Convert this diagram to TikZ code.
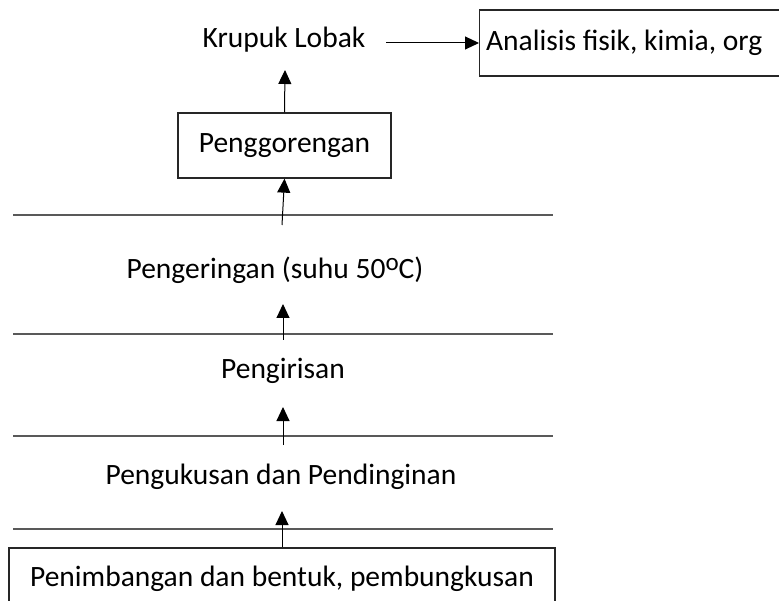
\documentclass[tikz,border=0pt]{standalone}
\usepackage{fontspec}
\setmainfont{Carlito}
\usepackage{tikz}
\usetikzlibrary{arrows.meta}
\usetikzlibrary{positioning}

\begin{document}
\begin{tikzpicture}[
    x=1pt, y=-1pt,
    every node/.style={font=\fontsize{29.5}{34}\selectfont},
    box style/.style={rectangle, draw=black!85, line width=1.3pt, inner sep=0pt},
    label style/.style={inner sep=0pt},
    rule style/.style={draw=black!65, line width=2pt},
    flow style/.style={draw=black, line width=1pt, -{Triangle[length=14pt,width=13pt]}}
]
\useasboundingbox (0,0) rectangle (779,601);

% boxes and labels
\node[box style, minimum width=546pt, minimum height=62pt] (weigh) at (282,579) {Penimbangan dan bentuk, pembungkusan};
\node[label style] (steam) at (281,477) {Pengukusan dan Pendinginan};
\node[label style] (slice) at (283,371) {Pengirisan};
\node[label style] (dry) at (275,270) {Pengeringan (suhu 50\raisebox{8pt}{\fontsize{25}{25}\selectfont o}C)};
\node[box style, minimum width=213pt, minimum height=65pt] (fry) at (284.5,145.5) {Penggorengan};
\node[label style] (krupuk) at (284,40) {Krupuk Lobak};
\node[box style, minimum width=320pt, minimum height=66pt, anchor=west] (test) at (479,43) {Analisis fisik, kimia, org\hspace*{31pt}};

% rules
\draw[rule style] (13,215) -- (553,215);
\draw[rule style] (13,334) -- (553,334);
\draw[rule style] (13,436) -- (553,436);
\draw[rule style] (13,529) -- (553,529);

% arrow ends
\coordinate (weigh out) at (282,511);
\coordinate (steam in) at (283,445);
\coordinate (slice out) at (283,407);
\coordinate (slice in) at (283,340);
\coordinate (dry out) at (283,304);
\coordinate (dry in) at (282,225);
\coordinate (fry out) at (285,70);
\coordinate (krupuk out) at (386,43);

% flow
\draw[flow style] (weigh.north) -- (weigh out);
\draw[flow style] (steam in) -- (slice out);
\draw[flow style] (slice in) -- (dry out);
\draw[flow style] (dry in) -- (fry.south);
\draw[flow style] (fry.north) -- (fry out);
\draw[flow style] (krupuk out) -- (test.west);
\end{tikzpicture}
\end{document}
